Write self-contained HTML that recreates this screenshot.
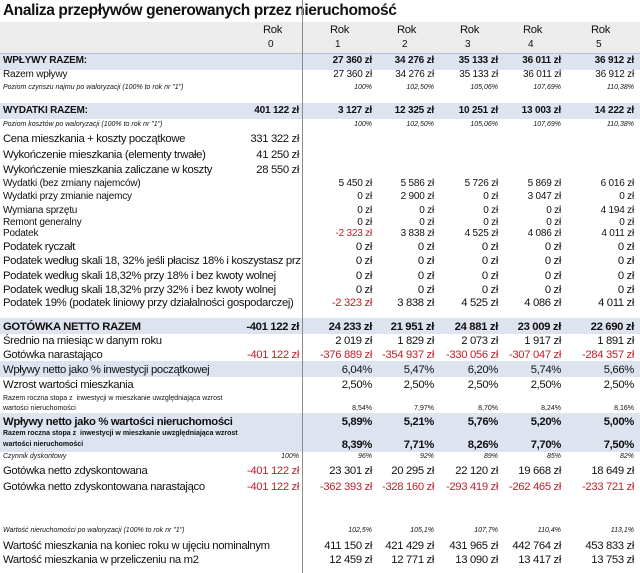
<!DOCTYPE html>
<html><head><meta charset="utf-8"><style>
body{margin:0;width:640px;height:573px;background:#fff;position:relative;overflow:hidden;font-family:"Liberation Sans",Arial,sans-serif;color:#111}
.band{position:absolute;left:0;width:640px;background:#dde3ef}
.row{position:absolute;left:0;width:640px;height:14px;line-height:14px;font-size:10px;white-space:nowrap;letter-spacing:-0.2px}
.row span{position:absolute;top:0}
.l{left:3px}
.c0{right:341px}.c1{right:268px}.c2{right:206px}.c3{right:142px}.c4{right:79px}.c5{right:6px}
.b{font-weight:bold}
.big{font-size:11.3px;letter-spacing:-0.35px}
.sm{font-size:7px;font-style:italic;letter-spacing:0}
.tiny{font-size:7px;font-weight:bold;letter-spacing:0}
.red{color:#c0202a}
</style></head><body>
<div style="position:absolute;left:3px;top:0;font-size:15.5px;font-weight:bold;line-height:22px;letter-spacing:-0.4px">Analiza przepływów generowanych przez nieruchomość</div>
<div style="position:absolute;left:0;top:22px;width:640px;height:31px;background:#ececec;border-bottom:1px solid #b8c0d0"></div>
<div class="band" style="top:54px;height:16px"></div>
<div class="band" style="top:103px;height:16px"></div>
<div class="band" style="top:318px;height:16px"></div>
<div class="band" style="top:361px;height:16px"></div>
<div class="band" style="top:413px;height:39px"></div>
<div style="position:absolute;left:302px;top:0;width:1px;height:573px;background:#8a8a8a"></div>

<div class="row big" style="top:23px"><span style="left:263px">Rok</span><span style="left:330px">Rok</span><span style="left:397px">Rok</span><span style="left:460px">Rok</span><span style="left:523px">Rok</span><span style="left:591px">Rok</span></div>
<div class="row" style="top:38px"><span style="left:268px">0</span><span style="left:335px">1</span><span style="left:402px">2</span><span style="left:465px">3</span><span style="left:528px">4</span><span style="left:596px">5</span></div>

<div class="row b" style="top:54px"><span class="l">WPŁYWY RAZEM:</span><span class="c1">27 360 zł</span><span class="c2">34 276 zł</span><span class="c3">35 133 zł</span><span class="c4">36 011 zł</span><span class="c5">36 912 zł</span></div>
<div class="row" style="top:68px"><span class="l">Razem wpływy</span><span class="c1">27 360 zł</span><span class="c2">34 276 zł</span><span class="c3">35 133 zł</span><span class="c4">36 011 zł</span><span class="c5">36 912 zł</span></div>
<div class="row sm" style="top:81px"><span class="l">Poziom czynszu najmu po waloryzacji (100% to rok nr "1")</span><span class="c1">100%</span><span class="c2">102,50%</span><span class="c3">105,06%</span><span class="c4">107,69%</span><span class="c5">110,38%</span></div>

<div class="row b" style="top:104px"><span class="l">WYDATKI RAZEM:</span><span class="c0">401 122 zł</span><span class="c1">3 127 zł</span><span class="c2">12 325 zł</span><span class="c3">10 251 zł</span><span class="c4">13 003 zł</span><span class="c5">14 222 zł</span></div>
<div class="row sm" style="top:118px"><span class="l">Poziom kosztów po waloryzacji (100% to rok nr "1")</span><span class="c1">100%</span><span class="c2">102,50%</span><span class="c3">105,06%</span><span class="c4">107,69%</span><span class="c5">110,38%</span></div>
<div class="row big" style="top:132px"><span class="l">Cena mieszkania + koszty początkowe</span><span class="c0">331 322 zł</span></div>
<div class="row big" style="top:148px"><span class="l">Wykończenie mieszkania (elementy trwałe)</span><span class="c0">41 250 zł</span></div>
<div class="row big" style="top:163px"><span class="l">Wykończenie mieszkania zaliczane w koszty</span><span class="c0">28 550 zł</span></div>
<div class="row" style="top:177px"><span class="l">Wydatki (bez zmiany najemców)</span><span class="c1">5 450 zł</span><span class="c2">5 586 zł</span><span class="c3">5 726 zł</span><span class="c4">5 869 zł</span><span class="c5">6 016 zł</span></div>
<div class="row" style="top:190px"><span class="l">Wydatki przy zmianie najemcy</span><span class="c1">0 zł</span><span class="c2">2 900 zł</span><span class="c3">0 zł</span><span class="c4">3 047 zł</span><span class="c5">0 zł</span></div>
<div class="row" style="top:204px"><span class="l">Wymiana sprzętu</span><span class="c1">0 zł</span><span class="c2">0 zł</span><span class="c3">0 zł</span><span class="c4">0 zł</span><span class="c5">4 194 zł</span></div>
<div class="row" style="top:216px"><span class="l">Remont generalny</span><span class="c1">0 zł</span><span class="c2">0 zł</span><span class="c3">0 zł</span><span class="c4">0 zł</span><span class="c5">0 zł</span></div>
<div class="row" style="top:227px"><span class="l">Podatek</span><span class="c1 red">-2 323 zł</span><span class="c2">3 838 zł</span><span class="c3">4 525 zł</span><span class="c4">4 086 zł</span><span class="c5">4 011 zł</span></div>
<div class="row big" style="top:240px"><span class="l">Podatek ryczałt</span><span class="c1">0 zł</span><span class="c2">0 zł</span><span class="c3">0 zł</span><span class="c4">0 zł</span><span class="c5">0 zł</span></div>
<div class="row big" style="top:254px"><span class="l" style="width:298px;overflow:hidden">Podatek według skali 18, 32% jeśli płacisz 18% i koszystasz przy najmie</span><span class="c1">0 zł</span><span class="c2">0 zł</span><span class="c3">0 zł</span><span class="c4">0 zł</span><span class="c5">0 zł</span></div>
<div class="row big" style="top:269px"><span class="l">Podatek według skali 18,32% przy 18% i bez kwoty wolnej</span><span class="c1">0 zł</span><span class="c2">0 zł</span><span class="c3">0 zł</span><span class="c4">0 zł</span><span class="c5">0 zł</span></div>
<div class="row big" style="top:283px"><span class="l">Podatek według skali 18,32% przy 32% i bez kwoty wolnej</span><span class="c1">0 zł</span><span class="c2">0 zł</span><span class="c3">0 zł</span><span class="c4">0 zł</span><span class="c5">0 zł</span></div>
<div class="row big" style="top:296px"><span class="l">Podatek 19% (podatek liniowy przy działalności gospodarczej)</span><span class="c1 red">-2 323 zł</span><span class="c2">3 838 zł</span><span class="c3">4 525 zł</span><span class="c4">4 086 zł</span><span class="c5">4 011 zł</span></div>

<div class="row b big" style="top:320px"><span class="l">GOTÓWKA NETTO RAZEM</span><span class="c0">-401 122 zł</span><span class="c1">24 233 zł</span><span class="c2">21 951 zł</span><span class="c3">24 881 zł</span><span class="c4">23 009 zł</span><span class="c5">22 690 zł</span></div>
<div class="row big" style="top:334px"><span class="l">Średnio na miesiąc w danym roku</span><span class="c1">2 019 zł</span><span class="c2">1 829 zł</span><span class="c3">2 073 zł</span><span class="c4">1 917 zł</span><span class="c5">1 891 zł</span></div>
<div class="row big" style="top:348px"><span class="l">Gotówka narastająco</span><span class="c0 red">-401 122 zł</span><span class="c1 red">-376 889 zł</span><span class="c2 red">-354 937 zł</span><span class="c3 red">-330 056 zł</span><span class="c4 red">-307 047 zł</span><span class="c5 red">-284 357 zł</span></div>
<div class="row big" style="top:363px"><span class="l">Wpływy netto jako % inwestycji początkowej</span><span class="c1">6,04%</span><span class="c2">5,47%</span><span class="c3">6,20%</span><span class="c4">5,74%</span><span class="c5">5,66%</span></div>
<div class="row big" style="top:378px"><span class="l">Wzrost wartości mieszkania</span><span class="c1">2,50%</span><span class="c2">2,50%</span><span class="c3">2,50%</span><span class="c4">2,50%</span><span class="c5">2,50%</span></div>
<div class="row" style="top:392px;font-size:7px;letter-spacing:0"><span class="l">Razem roczna stopa z&nbsp; inwestycji w mieszkanie uwzględniająca wzrost</span></div>
<div class="row" style="top:402px;font-size:7px;letter-spacing:0"><span class="l">wartości nieruchomości</span><span class="c1">8,54%</span><span class="c2">7,97%</span><span class="c3">8,70%</span><span class="c4">8,24%</span><span class="c5">8,16%</span></div>
<div class="row b big" style="top:415px"><span class="l">Wpływy netto jako % wartości nieruchomości</span><span class="c1">5,89%</span><span class="c2">5,21%</span><span class="c3">5,76%</span><span class="c4">5,20%</span><span class="c5">5,00%</span></div>
<div class="row tiny" style="top:427px"><span class="l">Razem roczna stopa z&nbsp; inwestycji w mieszkanie uwzględniająca wzrost</span></div>
<div class="row tiny" style="top:438px"><span class="l">wartości nieruchomości</span></div>
<div class="row b big" style="top:438px"><span class="c1">8,39%</span><span class="c2">7,71%</span><span class="c3">8,26%</span><span class="c4">7,70%</span><span class="c5">7,50%</span></div>
<div class="row sm" style="top:450px"><span class="l">Czynnik dyskontowy</span><span class="c0">100%</span><span class="c1">96%</span><span class="c2">92%</span><span class="c3">89%</span><span class="c4">85%</span><span class="c5">82%</span></div>
<div class="row big" style="top:464px"><span class="l">Gotówka netto zdyskontowana</span><span class="c0 red">-401 122 zł</span><span class="c1">23 301 zł</span><span class="c2">20 295 zł</span><span class="c3">22 120 zł</span><span class="c4">19 668 zł</span><span class="c5">18 649 zł</span></div>
<div class="row big" style="top:480px"><span class="l">Gotówka netto zdyskontowana narastająco</span><span class="c0 red">-401 122 zł</span><span class="c1 red">-362 393 zł</span><span class="c2 red">-328 160 zł</span><span class="c3 red">-293 419 zł</span><span class="c4 red">-262 465 zł</span><span class="c5 red">-233 721 zł</span></div>

<div class="row sm" style="top:524px"><span class="l">Wartość nieruchomości po waloryzacji (100% to rok nr "1")</span><span class="c1">102,5%</span><span class="c2">105,1%</span><span class="c3">107,7%</span><span class="c4">110,4%</span><span class="c5">113,1%</span></div>
<div class="row big" style="top:539px"><span class="l">Wartość mieszkania na koniec roku w ujęciu nominalnym</span><span class="c1">411 150 zł</span><span class="c2">421 429 zł</span><span class="c3">431 965 zł</span><span class="c4">442 764 zł</span><span class="c5">453 833 zł</span></div>
<div class="row big" style="top:553px"><span class="l">Wartość mieszkania w przeliczeniu na m2</span><span class="c1">12 459 zł</span><span class="c2">12 771 zł</span><span class="c3">13 090 zł</span><span class="c4">13 417 zł</span><span class="c5">13 753 zł</span></div>
</body></html>
